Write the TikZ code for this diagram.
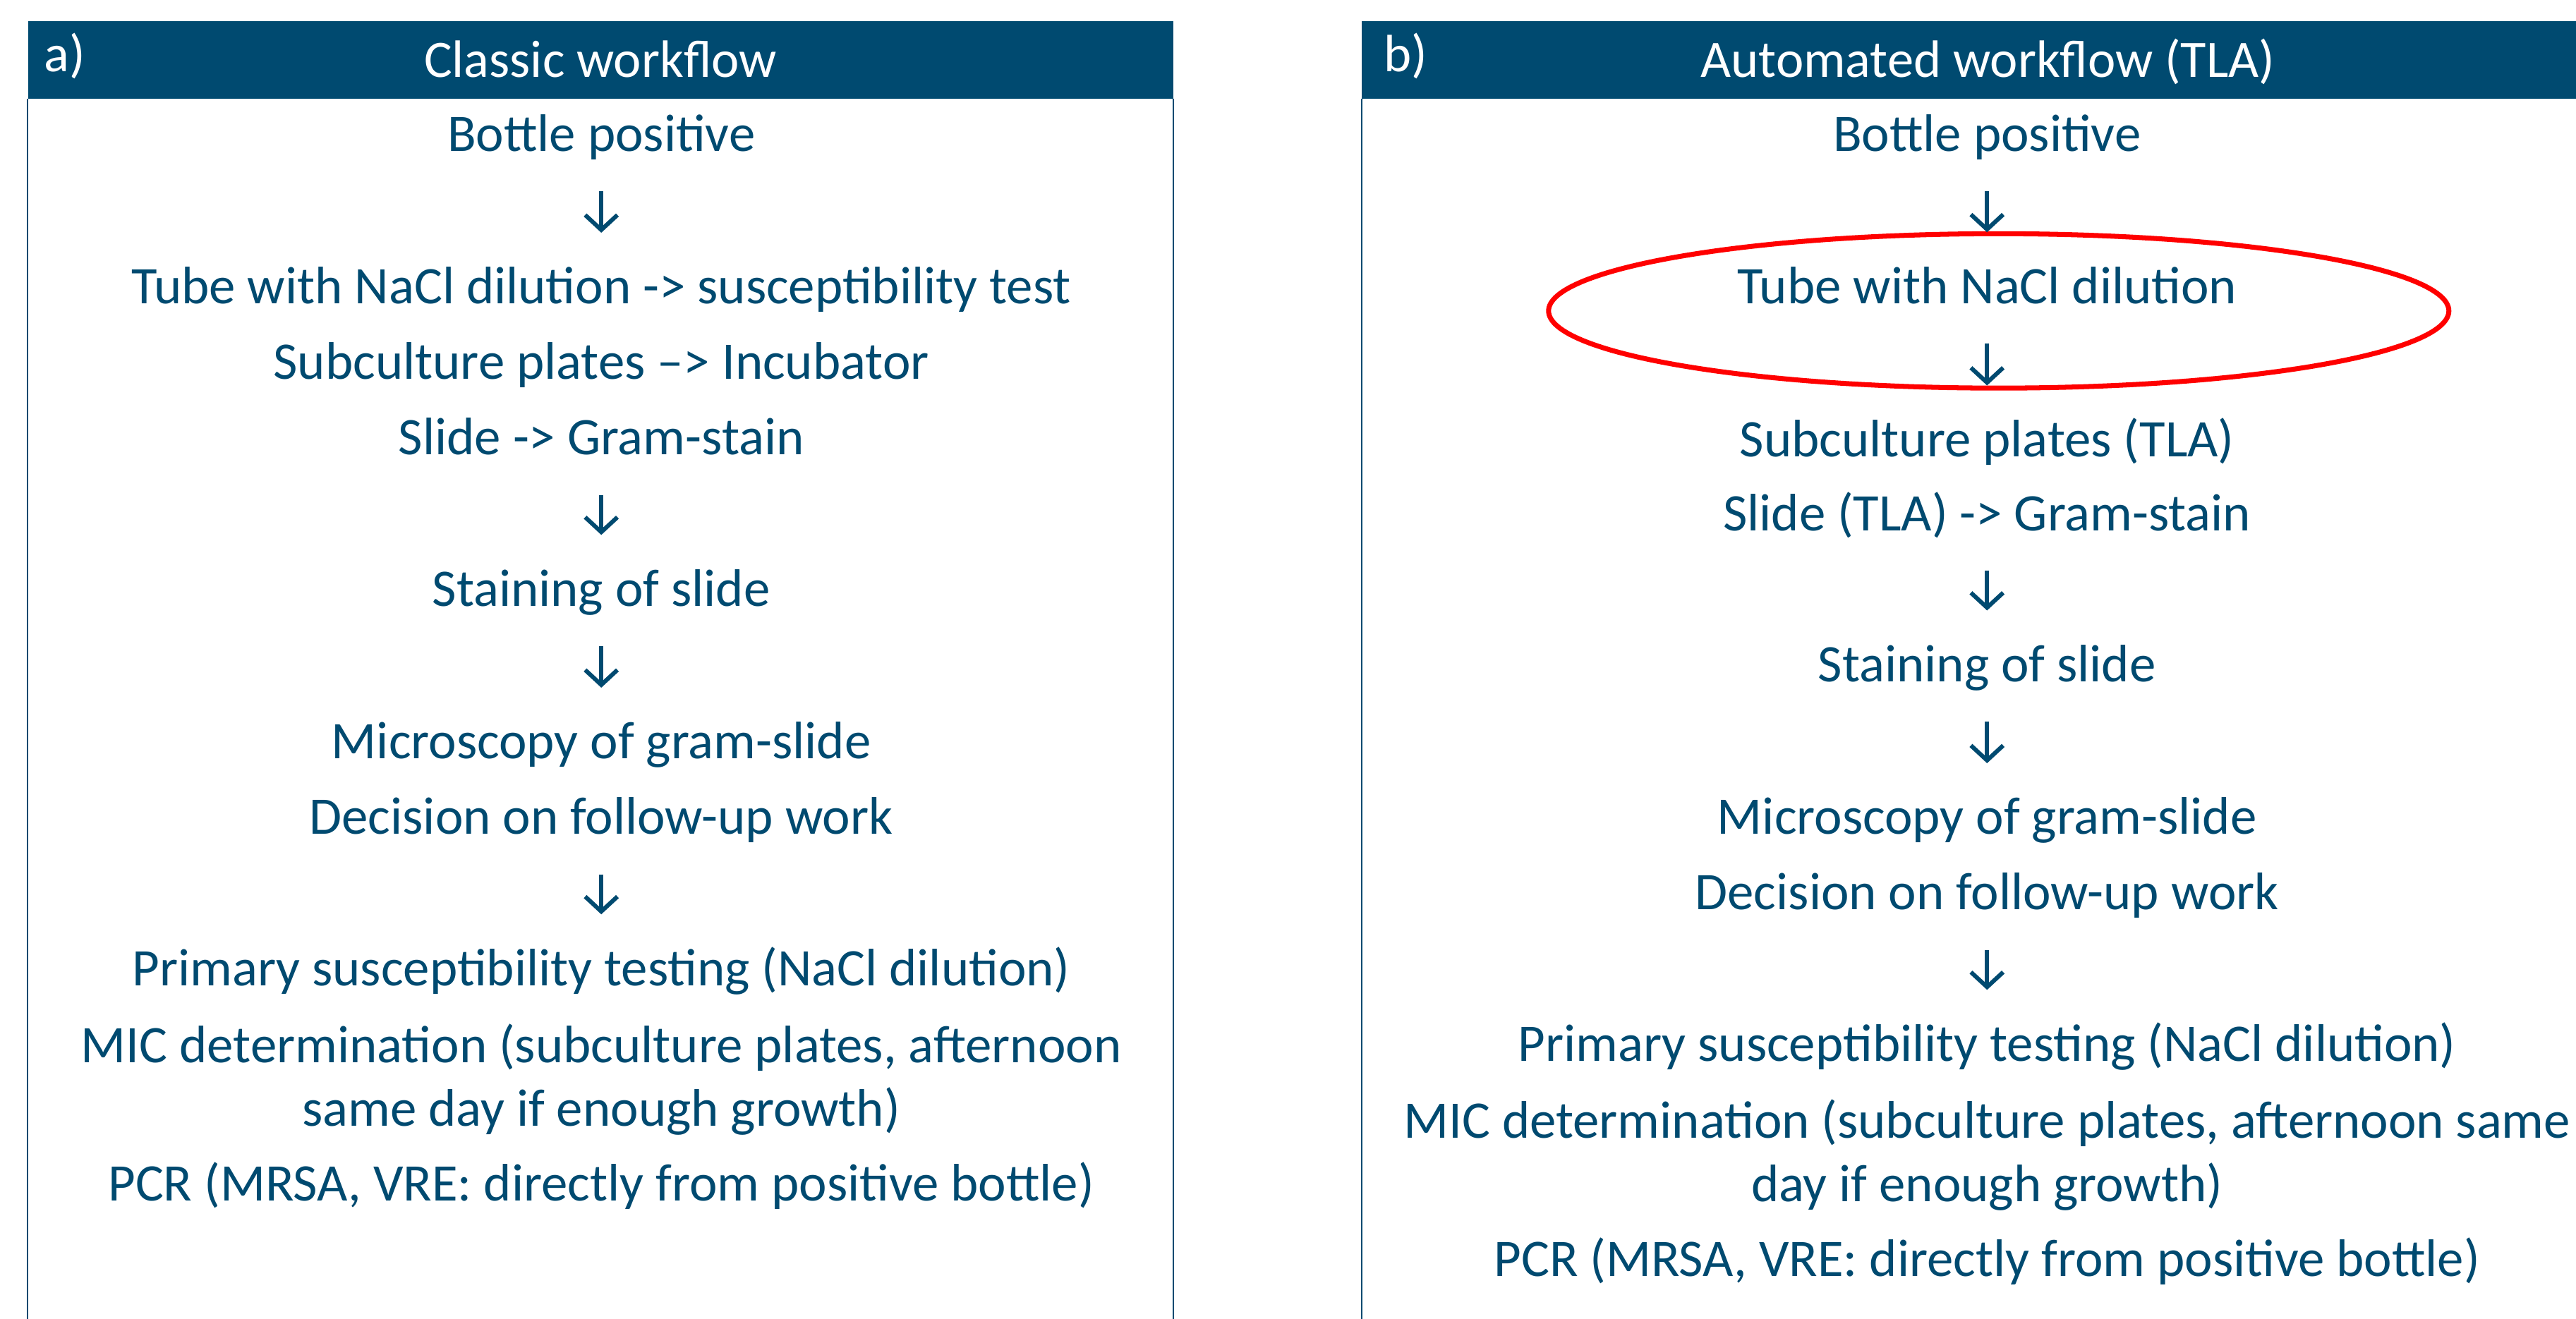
\documentclass[tikz,border=0pt]{standalone}
\usepackage{fontspec}
\setmainfont{Carlito}
\usetikzlibrary{arrows.meta,positioning}
\definecolor{lab_blue}{RGB}{0,74,112}

\begin{document}
\begin{tikzpicture}
%Two workflows side by side
	[
	 %Styles
	 x=0.023285cm, y=-0.023285cm,
	 step_text/.style={anchor=base, inner sep=0pt, text=lab_blue, align=center,
	    font=\fontsize{21.3pt}{25.5pt}\selectfont},
	 head_bar/.style={rectangle, fill=lab_blue, text=white, inner sep=0pt,
	    minimum height=1.094cm, text height=16pt, text depth=2pt,
	    font=\fontsize{21.2pt}{25pt}\selectfont},
	 panel_tag/.style={anchor=base west, inner sep=0pt, text=white,
	    font=\fontsize{21.2pt}{25pt}\selectfont},
	 frame_line/.style={draw=lab_blue, line width=0.6pt},
	 flow_arrow/.style={draw=lab_blue, line width=1.7pt,
	    -{Straight Barb[length=6pt,width=13pt]},
	    shorten <=0.568cm, shorten >=1.008cm},
	 red_ring/.style={draw=red, line width=2pt}
	]

	\path[use as bounding box, fill=white] (0,0) rectangle (1568,803);

	%Headers
	\node (head_a) [head_bar, minimum width=16.23cm] at (365.5,36.5) {Classic workflow};
	\node (head_b) [head_bar, minimum width=17.74cm] at (1210,36.5) {Automated workflow (TLA)};
	\path (26.5,43.7) node (tag_a) [panel_tag] {a)};
	\path (842,43.8) node (tag_b) [panel_tag] {b)};

	%Frames
	\draw[frame_line] (head_a.south west) -- ++(0,743);
	\draw[frame_line] (head_a.south east) -- ++(0,743);
	\draw[frame_line] (head_b.south west) -- ++(0,743);

	%Classic workflow
	\path (366,92) node (bottle_a) [step_text] {Bottle positive}
	   (366,185) node (tube_a) [step_text] {Tube with NaCl dilution -> susceptibility test}
	   (366,231) node (plates_a) [step_text] {Subculture plates –> Incubator}
	   (366,277) node (slide_a) [step_text] {Slide -> Gram-stain}
	   (366,369) node (stain_a) [step_text] {Staining of slide}
	   (366,462) node (micro_a) [step_text] {Microscopy of gram-slide}
	   (366,508) node (decide_a) [step_text] {Decision on follow-up work}
	   (366,600) node (primary_a) [step_text] {Primary susceptibility testing (NaCl dilution)}
	   (366,685.5) node (mic_a) [step_text] {MIC determination (subculture plates, afternoon\\ same day if enough growth)}
	   (366,731) node (pcr_a) [step_text] {PCR (MRSA, VRE: directly from positive bottle)};

	%Automated workflow
	\path (1209.5,92) node (bottle_b) [step_text] {Bottle positive}
	   (1209.5,184.7) node (tube_b) [step_text] {Tube with NaCl dilution}
	   (1209.5,278) node (plates_b) [step_text] {Subculture plates (TLA)}
	   (1209.5,323) node (slide_b) [step_text] {Slide (TLA) -> Gram-stain}
	   (1209.5,415) node (stain_b) [step_text] {Staining of slide}
	   (1209.5,508) node (micro_b) [step_text] {Microscopy of gram-slide}
	   (1209.5,554) node (decide_b) [step_text] {Decision on follow-up work}
	   (1209.5,646) node (primary_b) [step_text] {Primary susceptibility testing (NaCl dilution)}
	   (1209.5,731.4) node (mic_b) [step_text] {MIC determination (subculture plates, afternoon same\\ day if enough growth)}
	   (1209.5,777) node (pcr_b) [step_text] {PCR (MRSA, VRE: directly from positive bottle)};

	%Highlight
	\draw[red_ring] (1216.6,189.3) ellipse [x radius=274, y radius=47];

	%Edges
	\path
	    (bottle_a.base) edge [flow_arrow] (tube_a.base)
	    (slide_a.base) edge [flow_arrow] (stain_a.base)
	    (stain_a.base) edge [flow_arrow] (micro_a.base)
	    (decide_a.base) edge [flow_arrow] (primary_a.base)
	    (bottle_b.base) edge [flow_arrow] (tube_b.base)
	    (tube_b.base) edge [flow_arrow] (plates_b.base)
	    (slide_b.base) edge [flow_arrow] (stain_b.base)
	    (stain_b.base) edge [flow_arrow] (micro_b.base)
	    (decide_b.base) edge [flow_arrow] (primary_b.base);
\end{tikzpicture}
\end{document}
